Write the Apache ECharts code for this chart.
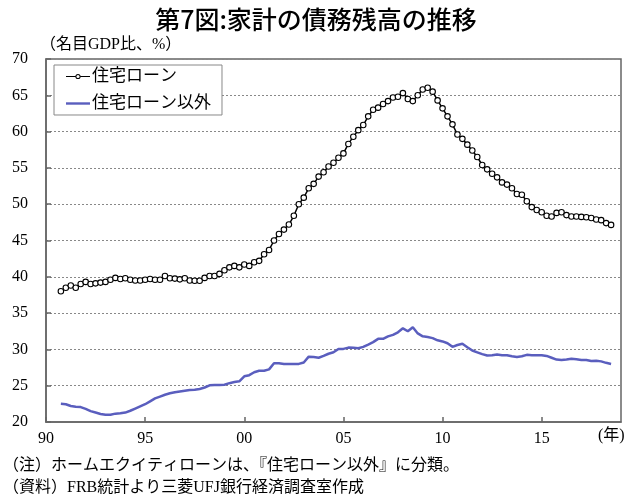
<!DOCTYPE html>
<html>
<head>
<meta charset="utf-8" />
<title>家計の債務残高の推移</title>
<script src="https://cdn.jsdelivr.net/npm/echarts@6/dist/echarts.min.js"></script>
<style>
  html, body { margin: 0; padding: 0; background: #fff; }
  #main { width: 632px; height: 498px; }
</style>
</head>
<body>
<div id="main"></div>
<script type="text/javascript">
// 四半期データ：1990年10-12月期から2018年7-9月期まで（名目GDP比、%）
var firstQuarter = 1990.75;
var seriesNames = ['住宅ローン', '住宅ローン以外'];

var housingLoan = [
  38.0, 38.5, 38.8, 38.5, 39.0, 39.3, 39.0, 39.1, 39.2, 39.3,
  39.6, 39.85, 39.7, 39.8, 39.6, 39.5, 39.5, 39.6, 39.7, 39.6,
  39.6, 40.1, 39.8, 39.75, 39.65, 39.8, 39.5, 39.45, 39.45, 39.85,
  40.1, 40.1, 40.4, 40.9, 41.3, 41.5, 41.3, 41.7, 41.5, 42.0,
  42.2, 43.1, 43.7, 45.0, 45.9, 46.5, 47.2, 48.4, 50.0, 50.9,
  52.2, 52.8, 53.8, 54.4, 55.2, 55.7, 56.4, 57.0, 58.3, 59.3,
  60.2, 60.9, 62.1, 63.0, 63.3, 63.8, 64.2, 64.7, 64.8, 65.3,
  64.5, 64.2, 65.0, 65.8, 66.05, 65.5,
  64.3, 63.2, 62.1, 61.0, 59.6, 59.0, 58.2, 57.4, 56.5, 55.4,
  54.8, 54.2, 53.7, 53.0, 52.7, 52.2, 51.4, 51.3, 50.4, 49.6,
  49.2, 48.9, 48.4, 48.3, 48.8, 48.9, 48.5, 48.3, 48.3, 48.25,
  48.2, 48.1, 47.9, 47.8, 47.4, 47.15
];

var otherDebt = [
  22.5, 22.45, 22.2, 22.1, 22.05, 21.8, 21.5, 21.3, 21.1, 21.0,
  21.0, 21.15, 21.2, 21.3, 21.55, 21.85, 22.15, 22.45, 22.85, 23.25,
  23.5, 23.75, 23.95, 24.1, 24.2, 24.3, 24.4, 24.45, 24.55, 24.75,
  25.05, 25.1, 25.1, 25.14, 25.35, 25.5, 25.6, 26.3, 26.45, 26.85,
  27.05, 27.05, 27.25, 28.1, 28.1, 28.0, 28.0, 28.0, 28.0, 28.2,
  29.0, 28.95, 28.85, 29.1, 29.4, 29.6,
  30.05, 30.07, 30.25, 30.23, 30.16, 30.35, 30.67, 31.0, 31.45, 31.45,
  31.8, 32.0, 32.35, 32.9, 32.5, 33.05, 32.2, 31.8, 31.7, 31.55,
  31.25, 31.1, 30.85, 30.35, 30.6, 30.77, 30.3, 29.85, 29.6, 29.35,
  29.15, 29.2, 29.3, 29.2, 29.2, 29.05, 28.95, 29.05, 29.25, 29.2,
  29.2, 29.2, 29.1, 28.85, 28.6, 28.55, 28.6, 28.7, 28.65, 28.55,
  28.55, 28.4, 28.45, 28.35, 28.15, 28.0
];

var notes = [
  '（注）ホームエクイティローンは、『住宅ローン以外』に分類。',
  '（資料）FRB統計より三菱UFJ銀行経済調査室作成'
];

// 四半期ごとの時点（年）
var quarters = [];
for (var i = 0; i < housingLoan.length; i++) {
  quarters.push(firstQuarter + i * 0.25);
}
function pairs(values) {
  return values.map(function (v, i) { return [quarters[i], v]; });
}

var serifFont = "'Liberation Serif', 'Noto Sans CJK JP', serif";
var gothicFont = "'Noto Sans CJK JP', sans-serif";
var axisColor = '#666';
var blue = '#5A5EBE';

// 凡例アイコン：線＋白抜き丸、線のみ
var iconLineMarker = 'path://' +
  'M0,2.0H9.4V3.2H0Z M14.6,2.0H24V3.2H14.6Z ' +
  'M14.6,2.6A2.6,2.6 0 1,0 9.4,2.6A2.6,2.6 0 1,0 14.6,2.6Z ' +
  'M13.6,2.6A1.6,1.6 0 1,1 10.4,2.6A1.6,1.6 0 1,1 13.6,2.6Z';
var iconLine = 'path://M0,0H24V2.4H0Z';

var myChart = echarts.init(document.getElementById('main'));
var option = {
  animation: false,
  backgroundColor: '#fff',
  title: {
    text: '第7図:家計の債務残高の推移',
    left: 'center',
    top: 2,
    textStyle: { fontFamily: gothicFont, fontSize: 25, fontWeight: 500, color: '#000' }
  },
  legend: {
    orient: 'vertical',
    left: 54,
    top: 65,
    padding: [3, 11, 3, 12],
    itemGap: 10,
    itemWidth: 24,
    itemHeight: 7,
    borderColor: '#888',
    borderWidth: 1,
    backgroundColor: '#fff',
    symbolKeepAspect: true,
    itemStyle: { borderWidth: 0 },
    lineStyle: { width: 0 },
    textStyle: { fontFamily: serifFont, fontSize: 17, color: '#000', padding: [0, 0, 0, -3] },
    data: [
      { name: seriesNames[0], icon: iconLineMarker, itemStyle: { color: '#000', borderWidth: 0 } },
      { name: seriesNames[1], icon: iconLine, itemStyle: { color: blue, borderWidth: 0 } }
    ]
  },
  grid: {
    left: 46,
    right: 11,
    top: 59,
    bottom: 76,
    show: true,
    borderColor: axisColor,
    borderWidth: 1.5
  },
  xAxis: {
    type: 'value',
    min: 1990,
    max: 2019,
    interval: 5,
    axisLine: { show: true, lineStyle: { color: axisColor, width: 1.5 } },
    axisTick: { show: true, inside: true, length: 5, lineStyle: { color: axisColor, width: 1.5 } },
    splitLine: { show: false },
    axisLabel: {
      fontFamily: serifFont,
      fontSize: 16,
      color: '#000',
      margin: 9,
      showMaxLabel: false,
      formatter: function (v) {
        var y = v % 100;
        return (y < 10 ? '0' : '') + y;
      }
    }
  },
  yAxis: {
    type: 'value',
    min: 20,
    max: 70,
    interval: 5,
    axisLine: { show: true, lineStyle: { color: axisColor, width: 1.5 } },
    axisTick: { show: true, inside: true, length: 5, lineStyle: { color: axisColor, width: 1.5 } },
    splitLine: { show: true, lineStyle: { color: '#888', width: 1, type: [2, 2] } },
    axisLabel: { fontFamily: serifFont, fontSize: 16, color: '#000', margin: 18 }
  },
  graphic: [
    { type: 'text', left: 40, top: 37, style: { text: '（名目GDP比、%）', fontFamily: serifFont, fontSize: 16, fill: '#000' } },
    { type: 'text', left: 598, top: 428, style: { text: '(年)', fontFamily: serifFont, fontSize: 16, fill: '#000' } },
    { type: 'text', left: 3, top: 458, style: { text: notes[0], fontFamily: serifFont, fontSize: 16, fill: '#000' } },
    { type: 'text', left: 3, top: 480, style: { text: notes[1], fontFamily: serifFont, fontSize: 16, fill: '#000' } }
  ],
  series: [
    {
      name: seriesNames[0],
      type: 'line',
      data: pairs(housingLoan),
      showSymbol: true,
      showAllSymbol: true,
      symbol: 'circle',
      symbolSize: 5.5,
      itemStyle: { color: '#fff', borderColor: '#000', borderWidth: 1.1 },
      lineStyle: { color: '#000', width: 1.5 },
      z: 3
    },
    {
      name: seriesNames[1],
      type: 'line',
      data: pairs(otherDebt),
      showSymbol: false,
      symbol: 'none',
      itemStyle: { color: blue },
      lineStyle: { color: blue, width: 2.5 },
      z: 2
    }
  ]
};
myChart.setOption(option);
</script>
</body>
</html>
